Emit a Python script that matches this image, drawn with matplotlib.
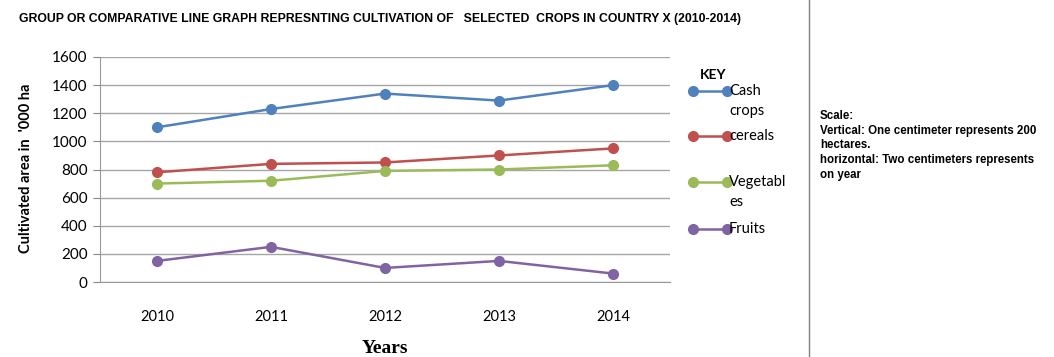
import matplotlib
matplotlib.use("Agg")
import matplotlib.pyplot as plt
from matplotlib.lines import Line2D

# cultivated area in '000 ha per year
years = ["2010", "2011", "2012", "2013", "2014"]
cash_crops = [1100, 1230, 1340, 1290, 1400]
cereals = [780, 840, 850, 900, 950]
vegetables = [700, 720, 790, 800, 830]
fruits = [150, 250, 100, 150, 60]

series_names = ["Cash\ncrops", "cereals", "Vegetabl\nes", "Fruits"]
series_colors = ["#4F81BD", "#C0504D", "#9BBB59", "#8064A2"]

narrow = ["Liberation Sans", "DejaVu Sans"]
body = ["Lato", "DejaVu Sans"]

W, H = 1054, 357
fig = plt.figure(figsize=(W / 100, H / 100), dpi=100)
ax = fig.add_axes([100 / W, 1 - 282 / H, 570 / W, 225 / H])

x = list(range(len(years)))
for vals, col in zip([cash_crops, cereals, vegetables, fruits], series_colors):
    ax.plot(x, vals, color=col, lw=1.8, marker="o", markersize=7,
            markeredgecolor=col, solid_capstyle="round")

ax.set_xlim(-0.5, len(years) - 0.5)
ax.set_ylim(0, 1600)
ax.set_yticks(range(0, 1601, 200))
ax.set_xticks(x)
ax.set_xticklabels(years, fontfamily=body, fontsize=10.5)
ax.tick_params(axis="x", length=0, pad=20)
ax.tick_params(axis="y", length=5, color="#888888", pad=4)
for lbl in ax.get_yticklabels():
    lbl.set_fontfamily(body)
    lbl.set_fontsize(11)
ax.grid(axis="y", color="#a6a6a6", lw=1)
ax.set_axisbelow(True)
for side in ["top", "right"]:
    ax.spines[side].set_visible(False)
for side in ["left", "bottom"]:
    ax.spines[side].set_color("#999999")

ax.set_xlabel("Years", fontfamily=["Liberation Serif", "DejaVu Serif"],
              fontweight="bold", fontsize=14, labelpad=12)
fig.text(26 / W, 1 - 168 / H, "Cultivated area in  '000 ha", rotation=90,
         ha="center", va="center", fontfamily=body, fontweight="bold", fontsize=10.5)

fig.text(19 / W, 1 - 19 / H,
         "GROUP OR COMPARATIVE LINE GRAPH REPRESNTING CULTIVATION OF   SELECTED  CROPS IN COUNTRY X (2010-2014)",
         ha="left", va="center", fontfamily=narrow, fontweight="bold", fontsize=8.8)

# key drawn beside the plot
fig.text(713 / W, 1 - 75 / H, "KEY", ha="center", va="center",
         fontfamily=body, fontweight="bold", fontsize=10)
key_rows = [91, 136, 182, 229]
for name, col, yy in zip(series_names, series_colors, key_rows):
    fy = 1 - yy / H
    fig.add_artist(Line2D([693 / W, 727 / W], [fy, fy], color=col, lw=1.8,
                          marker="o", markersize=7, transform=fig.transFigure))
    fig.text(729 / W, fy + 7 / H, name, ha="left", va="top", fontfamily=body,
             fontsize=10.5, linespacing=1.55)

# divider and scale note
fig.add_artist(Line2D([809 / W, 809 / W], [0, 1], color="#808080", lw=1,
                      transform=fig.transFigure))
fig.text(820 / W, 1 - 110 / H,
         "Scale:\nVertical: One centimeter represents 200\nhectares.\n"
         "horizontal: Two centimeters represents\non year",
         ha="left", va="top", fontfamily=narrow, fontweight="bold",
         fontsize=8.3, linespacing=1.3)

fig.savefig("out.png", dpi=100)
